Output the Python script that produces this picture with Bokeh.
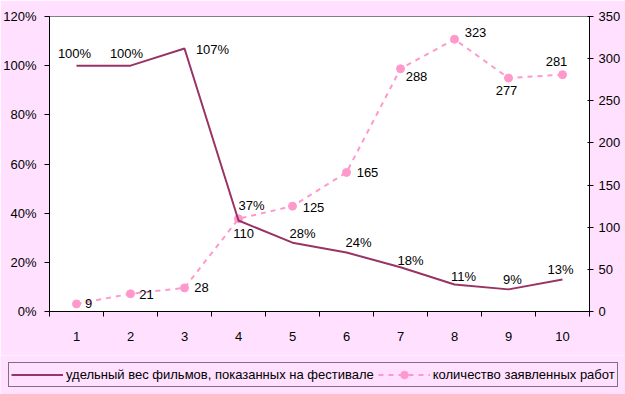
from bokeh.plotting import figure
from bokeh.layouts import column
from bokeh.models import (LinearAxis, Range1d, FixedTicker, NumeralTickFormatter,
                          Legend, LegendItem, ColumnDataSource)
from bokeh.embed import file_html
from bokeh.resources import INLINE
from bokeh.core.properties import value

# ---- data ----
periods = [1, 2, 3, 4, 5, 6, 7, 8, 9, 10]
share_shown = [1.00, 1.00, 1.07, 0.37, 0.28, 0.24, 0.18, 0.11, 0.09, 0.13]
submitted = [9, 21, 28, 110, 125, 165, 288, 323, 277, 281]
left_ticks = [0, 0.2, 0.4, 0.6, 0.8, 1.0, 1.2]
right_ticks = [0, 50, 100, 150, 200, 250, 300, 350]
series1_name = "удельный вес фильмов, показанных на фестивале"
series2_name = "количество заявленных работ"

# ---- label placement (screen px offsets) ----
s1_dx = [-2, -4, 28, 13, 10, 12, 10, 9, 4, -2]
s1_dy = [-12, -12, 1, -15, -9, -10, -7, -8, -10, -10]
s2_dx = [12, 16, 17, 5, 21, 21, 16, 21, -2, -6]
s2_dy = [0, 1, 0, 15, 1, 0, 8, -7, 12, -13]

BG = "#FFE1FF"
C1 = "#993366"
C2 = "#FF99CC"
FONT = "Liberation Sans"
FS = "13px"

p = figure(width=625, height=355, output_backend="svg", toolbar_location=None,
           x_range=Range1d(0.5, 10.5), y_range=Range1d(0, 1.2),
           x_axis_type=None, y_axis_type=None,
           min_border_left=48, min_border_right=36, min_border_top=16,
           min_border_bottom=44)
p.extra_y_ranges = {"right": Range1d(0, 350)}
p.border_fill_color = BG
p.background_fill_color = "white"
p.outline_line_color = "#808080"
p.grid.visible = False
p.frame_align = False

# axes
xax = LinearAxis(ticker=FixedTicker(ticks=periods,
                                     minor_ticks=[i + 0.5 for i in range(0, 11)]))
xax.major_tick_line_color = None
xax.major_tick_out = 0
xax.major_tick_in = 0
xax.minor_tick_out = 5
xax.minor_tick_in = 0
xax.minor_tick_line_color = "black"
xax.major_label_standoff = 15
p.add_layout(xax, "below")

lax = LinearAxis(ticker=FixedTicker(ticks=left_ticks, minor_ticks=[]),
                 formatter=NumeralTickFormatter(format="0%"))
lax.major_tick_out = 5
lax.major_tick_in = 0
lax.major_label_standoff = 8
lax.major_tick_line_color = "black"
lax.minor_tick_line_color = None
p.add_layout(lax, "left")

rax = LinearAxis(y_range_name="right", ticker=FixedTicker(ticks=right_ticks, minor_ticks=[]))
rax.major_tick_out = 4
rax.major_tick_in = 2
rax.major_label_standoff = 5
rax.major_tick_line_color = "black"
rax.minor_tick_line_color = None
p.add_layout(rax, "right")

for ax in (xax, lax, rax):
    ax.axis_line_color = "black"
    ax.major_label_text_font = FONT
    ax.major_label_text_font_size = FS
    ax.major_label_text_color = "black"

# series
src1 = ColumnDataSource(dict(x=periods, y=share_shown,
                             t=[f"{round(v * 100)}%" for v in share_shown],
                             dx=s1_dx, dy=s1_dy))
src2 = ColumnDataSource(dict(x=periods, y=submitted,
                             t=[str(v) for v in submitted],
                             dx=s2_dx, dy=s2_dy))

p.line("x", "y", source=src2, y_range_name="right", line_color=C2,
       line_width=2, line_dash="5 5")
p.scatter("x", "y", source=src2, y_range_name="right", marker="circle",
          size=8, fill_color=C2, line_color=C2)
p.line("x", "y", source=src1, line_color=C1, line_width=2)

p.text("x", "y", text="t", source=src1, x_offset="dx", y_offset="dy",
       text_align="center", text_baseline="middle",
       text_font=value(FONT), text_font_size=FS, text_color="black")
p.text("x", "y", text="t", source=src2, y_range_name="right",
       x_offset="dx", y_offset="dy",
       text_align="center", text_baseline="middle",
       text_font=value(FONT), text_font_size=FS, text_color="black")

# ---- legend strip (separate figure below the chart) ----
# the same series are attached here (outside the visible range) so the
# legend can draw their keys; only the legend box is visible in this strip
lg = figure(width=625, height=39, output_backend="svg", toolbar_location=None,
            x_range=Range1d(0.5, 10.5), y_range=Range1d(5000, 5001),
            x_axis_type=None, y_axis_type=None, min_border=0)
lg.frame_align = False
lg.border_fill_color = BG
lg.background_fill_color = BG
lg.outline_line_color = None
lg.grid.visible = False
k1 = lg.line("x", "y", source=src1, line_color=C1, line_width=2)
k2 = lg.line("x", "y", source=src2, line_color=C2, line_width=2, line_dash="5 5")
k3 = lg.scatter("x", "y", source=src2, marker="circle", size=8,
                fill_color=C2, line_color=C2)

legend = Legend(items=[LegendItem(label=series1_name, renderers=[k1]),
                       LegendItem(label=series2_name, renderers=[k2, k3])],
                orientation="horizontal", location=(8, 7))
legend.border_line_color = "black"
legend.border_line_width = 1
legend.background_fill_color = BG
legend.background_fill_alpha = 1
legend.label_text_font = FONT
legend.label_text_font_size = FS
legend.label_text_color = "black"
legend.glyph_width = 52
legend.glyph_height = 19
legend.label_height = 19
legend.label_standoff = 3
legend.spacing = 4
legend.padding = 2
legend.margin = 0
lg.add_layout(legend, "center")

layout = column(p, lg, spacing=0)
open("out.html", "w").write(file_html(layout, INLINE))
